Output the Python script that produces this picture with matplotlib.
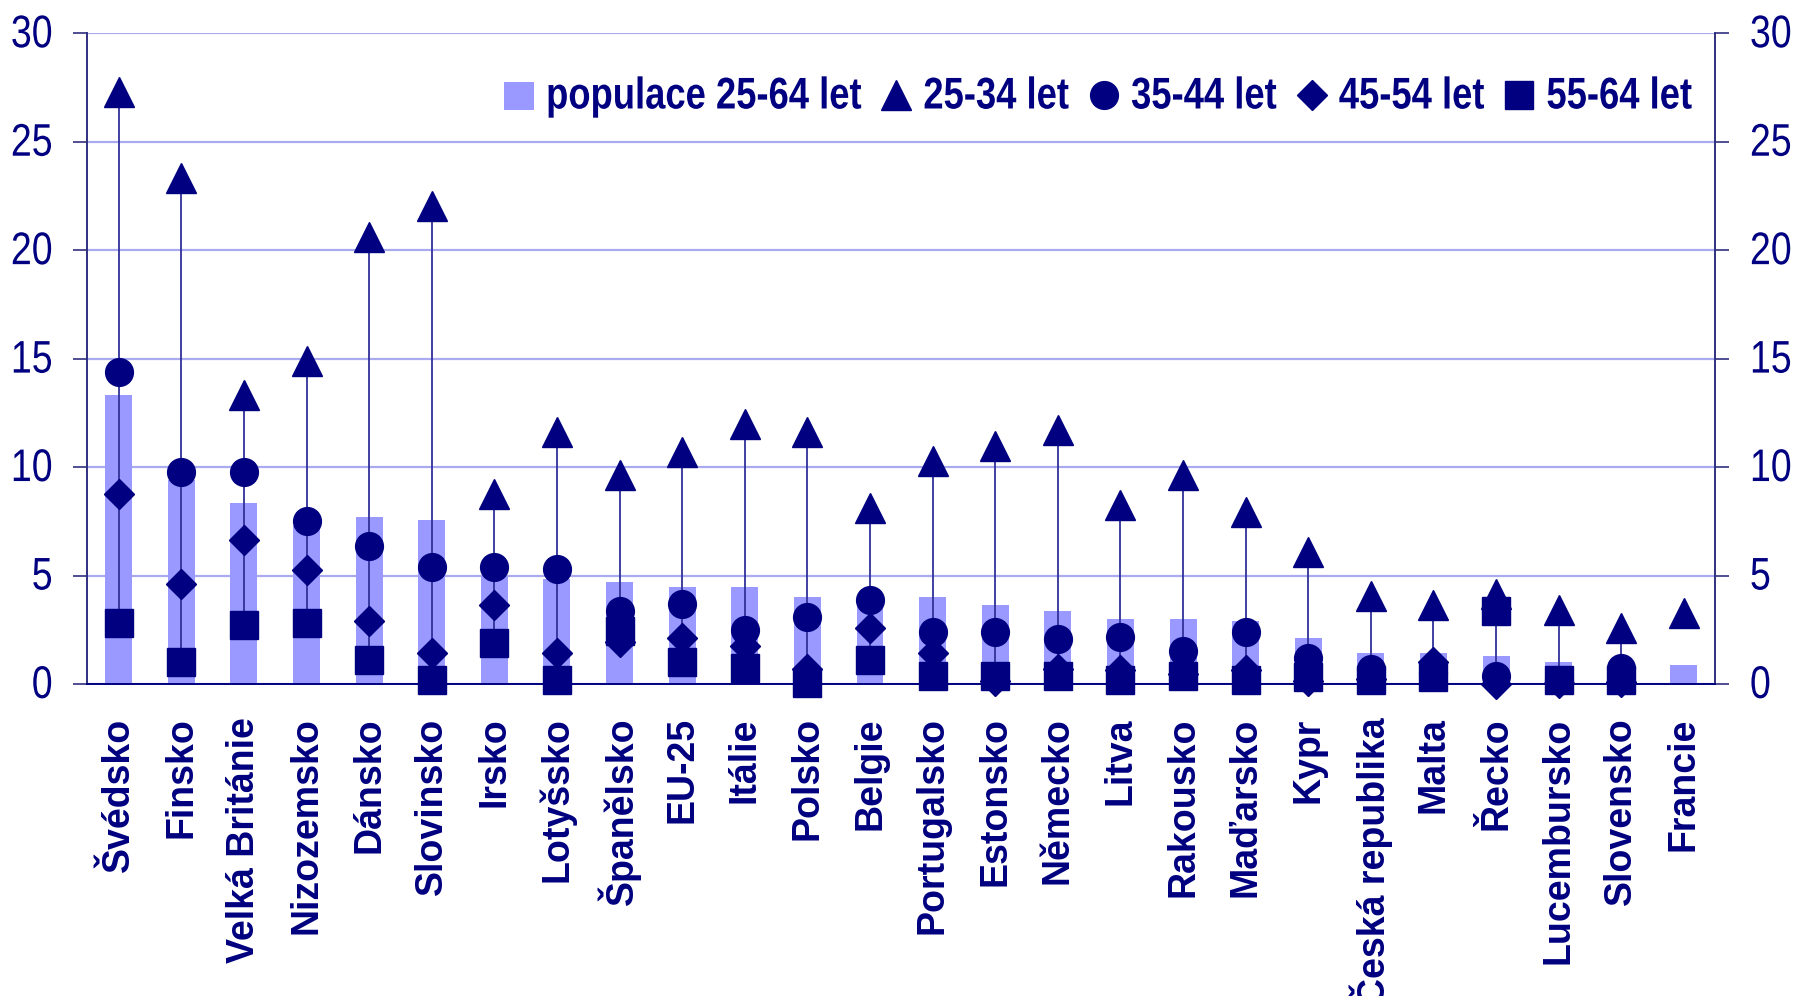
import numpy as np
import matplotlib.pyplot as plt
from matplotlib.lines import Line2D
from matplotlib.patches import Patch
from matplotlib.patheffects import AbstractPathEffect
from matplotlib.transforms import Affine2D

zeme = ['Švédsko', 'Finsko', 'Velká Británie', 'Nizozemsko', 'Dánsko', 'Slovinsko',
        'Irsko', 'Lotyšsko', 'Španělsko', 'EU-25', 'Itálie', 'Polsko', 'Belgie',
        'Portugalsko', 'Estonsko', 'Německo', 'Litva', 'Rakousko', 'Maďarsko', 'Kypr',
        'Česká republika', 'Malta', 'Řecko', 'Lucembursko', 'Slovensko', 'Francie']

# populace 25-64 let (sloupce)
pop_25_64 = [13.3, 9.4, 8.35, 7.3, 7.7, 7.55, 5.0, 4.85, 4.7, 4.45, 4.45, 4.0, 4.0,
             4.0, 3.65, 3.35, 3.0, 3.0, 2.9, 2.1, 1.45, 1.45, 1.3, 1.0, 0.7, 0.88]
v_25_34 = [27.3, 23.35, 13.3, 14.9, 20.6, 22.05, 8.75, 11.6, 9.65, 10.7, 12.0, 11.6, 8.1,
           10.3, 10.95, 11.7, 8.25, 9.65, 7.95, 6.1, 4.05, 3.65, 4.15, 3.4, 2.6, 3.25]
v_35_44 = [14.4, 9.75, 9.75, 7.5, 6.35, 5.4, 5.4, 5.3, 3.35, 3.7, 2.5, 3.1, 3.85,
           2.4, 2.4, 2.05, 2.15, 1.5, 2.4, 1.2, 0.7, 0.5, 0.35, 0.2, 0.75, np.nan]
v_45_54 = [8.75, 4.6, 6.65, 5.25, 2.9, 1.45, 3.65, 1.45, 1.95, 2.1, 1.75, 0.7, 2.6,
           1.45, 0.15, 0.7, 0.65, 0.45, 0.65, 0.15, 0.25, 1.0, 0.0, 0.05, 0.1, np.nan]
v_55_64 = [2.8, 1.0, 2.7, 2.8, 1.1, 0.2, 1.9, 0.2, 2.45, 1.0, 0.75, 0.05, 1.1,
           0.35, 0.35, 0.35, 0.2, 0.35, 0.2, 0.3, 0.2, 0.3, 3.35, 0.2, 0.2, np.nan]

navy = '#000080'
fam = ['Liberation Sans', 'DejaVu Sans']


# no Arial Narrow here -> smaller Liberation Sans stretched up from the baseline
class Vyska(AbstractPathEffect):
    def __init__(self, sy):
        super().__init__()
        self.sy = sy

    def draw_path(self, renderer, gc, tpath, affine, rgbFace=None):
        renderer.draw_path(gc, tpath, Affine2D().scale(1, self.sy) + affine, rgbFace)


uzky = [Vyska(1 / 0.82)]

fig = plt.figure(figsize=(17.94, 9.96), dpi=100)
ax = fig.add_axes([0.0487, 0.3133, 0.9074, 0.6533])

x = np.arange(len(zeme))
ax.bar(x, pop_25_64, width=0.43, color='#9999ff', zorder=2)

serie = np.array([v_25_34, v_35_44, v_45_54, v_55_64], dtype=float)
hi = np.nanmax(serie, axis=0)
lo = np.nanmin(serie, axis=0)
ax.vlines(x, lo, hi, color='#30309a', lw=1.3, zorder=3)

znacky = [('^', 22), ('o', 20), ('D', 15.5), ('s', 20)]
for vals, (m, ms) in zip(serie, znacky):
    ax.plot(x, vals, ls='none', marker=m, ms=ms, color=navy, zorder=4, clip_on=False)

ax.set_xlim(-0.5, len(zeme) - 0.5)
ax.set_ylim(0, 30)
ax.set_yticks(range(0, 31, 5))
ax.grid(axis='y', color='#aaaaf0', lw=1.6, zorder=0)
ax.set_axisbelow(True)

ax.spines['top'].set_visible(False)
ax.spines['left'].set_color('#303080')
ax.spines['right'].set_color('#303080')
ax.spines['bottom'].set_color(navy)
for s in ['left', 'right', 'bottom']:
    ax.spines[s].set_linewidth(1.4)

ax.tick_params(axis='y', which='both', left=True, right=True, labelleft=True,
               labelright=True, length=10, width=1.2, color='#303080', pad=15,
               labelsize=27, labelcolor=navy)
for t in ax.yaxis.get_major_ticks():
    for lab in (t.label1, t.label2):
        lab.set_family(fam)
        lab.set_path_effects(uzky)

ax.set_xticks(x)
ax.set_xticklabels(zeme, rotation=90, fontsize=27, fontweight='bold', color=navy,
                   family=fam)
ax.tick_params(axis='x', length=0, pad=24)

handles = [Patch(facecolor='#9999ff', edgecolor='none')]
for m, ms in znacky:
    handles.append(Line2D([], [], ls='none', marker=m, ms=ms, color=navy))
labels = ['populace 25-64 let', '25-34 let', '35-44 let', '45-54 let', '55-64 let']
leg = ax.legend(handles, labels, loc='center', bbox_to_anchor=(0.621, 0.899), ncol=5,
                frameon=False, handlelength=0.82, handleheight=0.82, handletextpad=0.33,
                columnspacing=0.55, borderpad=0,
                prop=dict(family=fam, weight='bold', size=26.2), labelcolor=navy)
for t in leg.get_texts():
    t.set_path_effects(uzky)

fig.savefig('out.png', dpi=100)
